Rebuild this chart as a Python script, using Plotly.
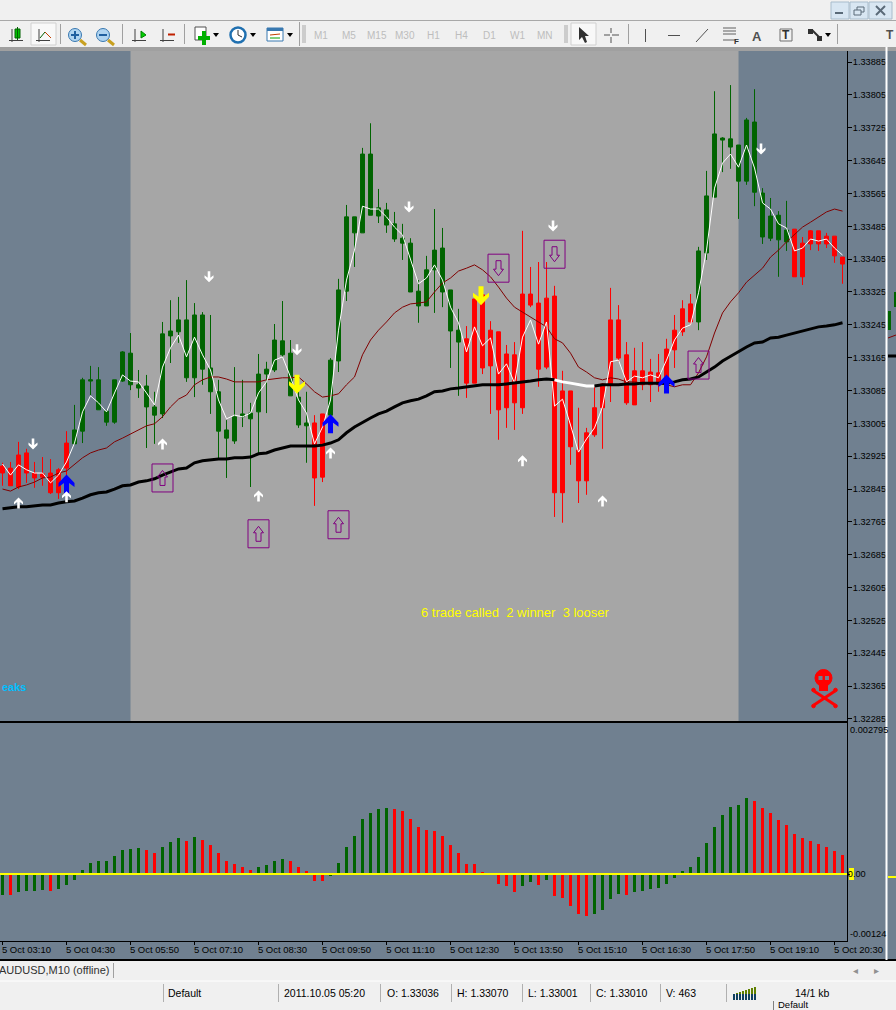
import numpy as np
import pandas as pd
import plotly.graph_objects as go

W, H = 896, 1010

## Chart data, prices are in points (1e-5)

HIGHS = [132909,132911,132960,132943,132911,132923,132918,132896,132986,133050,133116,133145,133142,133038,133111,133181,133225,133135,133123,133082,
         133252,133305,133313,133354,133298,133276,133269,133111,133013,133142,133111,133055,133174,133155,133247,133303,133208,133082,133082,133025,
         133028,133164,133357,133537,133508,133676,133736,133576,133542,133520,133491,133456,133354,133413,133527,133481,133330,133284,133242,133308,
         133318,133254,133228,133196,133203,133474,133386,133398,133398,133340,133133,133084,133043,132994,133094,133103,133335,133293,133203,133189,
         133203,133162,133174,133211,133269,133305,133320,133435,133620,133814,133702,133829,133683,133749,133819,133578,133554,133522,133547,133478,
         133459,133476,133474,133469,133461,133410]
BODY_TOPS = [132901,132896,132928,132933,132884,132882,132884,132892,132957,132989,133111,133111,133111,133035,133111,133179,133176,133099,133096,133045,
             133223,133230,133257,133257,133269,133269,133140,133082,132989,133021,133028,133030,133125,133137,133208,133206,133176,133069,133006,133006,
             133028,133159,133330,133508,133508,133661,133661,133530,133525,133491,133456,133444,133327,133379,133427,133432,133330,133232,133211,133308,
             133318,133232,133228,133174,133172,133320,133320,133298,133310,133315,133084,133084,132940,132982,133043,133101,133257,133257,133172,133133,
             133133,133130,133128,133186,133232,133284,133296,133425,133559,133710,133700,133698,133683,133744,133739,133566,133510,133512,133476,133478,
             133444,133474,133474,133461,133461,133410]
BODY_BOTTOMS = [132884,132853,132850,132884,132872,132874,132836,132836,132896,132955,132986,133108,133038,133008,133008,133108,133099,133091,133045,133025,
                133028,133218,133228,133116,133116,133137,133082,132986,132969,132962,133021,133016,133033,133125,133135,133172,133072,133001,132999,132872,
                132874,133025,133157,133327,133469,133469,133512,133510,133488,133454,133444,133325,133291,133291,133379,133325,133230,133203,133103,133103,
                133140,133145,133038,133043,133055,133043,133293,133137,133142,132836,132836,132948,132865,132865,132977,133043,133099,133164,133055,133050,
                133099,133099,133099,133099,133184,133228,133252,133252,133420,133556,133695,133678,133595,133595,133568,133459,133456,133452,133447,133362,
                133362,133442,133442,133442,133413,133393]
LOWS = [132853,132853,132845,132860,132848,132853,132833,132821,132874,132955,132957,133074,133038,132999,133004,133106,133086,133067,132945,132955,
        133018,133152,133201,133106,133069,133099,133028,132918,132872,132955,132996,132850,132931,133030,133130,133167,133072,132994,132909,132804,
        132862,133025,133130,133303,133386,133469,133512,133493,133469,133447,133403,133325,133250,133291,133274,133288,133140,133072,133067,133103,
        133125,133028,132965,132994,132989,133028,133288,133094,133137,132777,132763,132904,132811,132831,132972,132943,133057,133155,133050,133050,
        133086,133057,133082,133099,133140,133218,133245,133232,133403,133556,133617,133625,133503,133586,133534,133442,133449,133362,133425,133362,
        133342,133427,133425,133432,133396,133345]
BAR_COLORS = ["r"]*9 + ["g"]*30 + ["r"]*2 + ["g"]*17 + ["r"]*29 + ["g"]*12 + ["r"]*7

FAST_LINE = [132906,132879,132904,132892,132884,132884,132860,132879,132911,132957,133033,133072,133055,133033,133079,133123,133108,133106,133079,133050,
             133142,133189,133220,133167,133215,133172,133135,133062,133016,133025,133021,133030,133079,133106,133159,133167,133118,133062,133030,132955,
             132996,133062,133232,133354,133427,133534,133527,133527,133508,133483,133464,133403,133345,133359,133391,133354,133288,133250,133179,133240,
             133194,133213,133125,133150,133103,133215,133257,133198,133252,133047,133064,133001,132935,132967,132994,133045,133155,133159,133106,133120,
             133116,133123,133116,133159,133208,133237,133245,133323,133427,133578,133639,133661,133629,133683,133627,133542,133527,133491,133481,133425,
             133432,133454,133449,133454,133432,133415]
SLOW_LINE = [132845,132840,132850,132855,132862,132872,132874,132884,132889,132904,132921,132933,132940,132945,132960,132969,132979,132989,132999,133004,
             133021,133045,133064,133074,133099,133111,133118,133118,133113,133106,133106,133106,133106,133111,133113,133116,133116,133118,133101,133082,
             133069,133072,133077,133099,133118,133172,133208,133232,133252,133274,133288,133296,133298,133301,133325,133347,133359,133376,133383,133391,
             133379,133362,133337,133310,133288,133276,133262,133250,133240,133211,133201,133176,133142,133130,133116,133111,133116,133113,133106,133106,
             133103,133103,133103,133099,133094,133099,133099,133128,133167,133225,133274,133301,133323,133349,133366,133383,133410,133427,133447,133466,
             133483,133495,133508,133520,133527,133522]
TREND_LINE = [132797,132799,132802,132802,132804,132806,132806,132811,132814,132816,132823,132831,132836,132838,132845,132853,132855,132862,132865,132870,
              132879,132887,132894,132896,132909,132914,132916,132918,132918,132921,132921,132923,132931,132933,132940,132945,132950,132950,132950,132950,
              132952,132957,132965,132982,132996,133008,133018,133028,133035,133045,133055,133060,133064,133072,133082,133084,133089,133091,133094,133096,
              133099,133099,133099,133101,133103,133106,133108,133111,133113,133111,133106,133103,133099,133096,133096,133099,133099,133099,133101,133101,
              133103,133103,133103,133103,133106,133111,133113,133118,133130,133142,133157,133169,133179,133191,133201,133203,133213,133215,133220,133225,
              133230,133235,133240,133242,133245,133250]
TREND_WHITE_FROM, TREND_WHITE_TO = 69, 74

HIST_VALUES = [-39.5,-39.5,-34,-32,-32,-30,-32,-28.4,-21,-11.7,6.8,19.7,23.4,23.4,32.7,43.8,45.7,47.5,43.8,38.3,
               49.4,58.6,66,60.5,67.9,62.3,53.1,38.3,23.4,17.9,12.3,6.8,12.3,16,23.4,27.1,23.4,12.3,4.9,-13.6,
               -13.6,-4.3,19.7,49.4,69.7,101.2,112.3,119.7,121.5,119.7,116,101.2,86.4,80.8,79,69.7,53.1,38.3,17.9,17.9,
               3.1,0,-19.1,-22.8,-34,-22.8,-15.4,-21,-11.7,-41.3,-45,-59.8,-74.7,-78.4,-74.7,-67.3,-46.9,-37.6,-39.5,-34,
               -32,-28.4,-26.5,-19.1,-8,4.9,12.3,30.9,56.8,86.4,108.6,123.4,127.1,140,134.5,121.5,112.3,99.3,90.1,73.4,
               66,60.5,54.9,49.4,42,34.6]
HIST_COLORS = ("g r gggg r ggggggggggg rr ggg r g rrrrrrr gggg rrrrr gggggggg rrrrrrrrrrrrrrrr "
               "gg r g rrrrr gggg r ggggggggggggggg rrrrrrrrrrrr").replace(" ", "")

# signals: bar number and price in points
BLUE_BARS, BLUE_PRICES = [8, 41, 83], [132857, 133004, 133101]
YELLOW_BARS, YELLOW_PRICES = [37, 60], [133100, 133316]
SMALL_UP_BARS, SMALL_UP_PRICES = [2, 8, 20, 32, 41, 65, 75], [132811, 132826, 132955, 132828, 132933, 132914, 132816]
SMALL_DOWN_BARS, SMALL_DOWN_PRICES = [4, 26, 37, 51, 69, 95], [132955, 133362, 133184, 133532, 133486, 133673]
BOX_UP_BARS, BOX_UP_PRICES = [20, 32, 42, 87], [132872, 132736, 132758, 133147]
BOX_DOWN_BARS, BOX_DOWN_PRICES = [62, 69], [133383, 133417]

PRICE_TICKS = [1.33885,1.33805,1.33725,1.33645,1.33565,1.33485,1.33405,1.33325,1.33245,1.33165,1.33085,
               1.33005,1.32925,1.32845,1.32765,1.32685,1.32605,1.32525,1.32445,1.32365,1.32285]
SESSION = ("2011-10-05 05:50", "2011-10-05 18:30")
TIMEFRAMES = ["M1", "M5", "M15", "M30", "H1", "H4", "D1", "W1", "MN"]
STATUS_TEXTS = ["Default", "2011.10.05 05:20", "O: 1.33036", "H: 1.33070", "L: 1.33001", "C: 1.33010", "V: 463", "14/1 kb"]

SLATE, GREY, GREEN, RED = "#708090", "#a6a6a6", "#006400", "#ff0000"
CHROME = "#f0f0f0"
PURPLE = "#800080"
FONT = "Liberation Sans"

## Icons, pixel offsets from the anchor point (up is positive)

BIG_UP = "M0,9.5 L8,1 L8,-3 L2.5,1 L2.5,-9.5 L-2.5,-9.5 L-2.5,1 L-8,-3 L-8,1 Z"
BIG_DOWN = "M-1.5,-9.5 L6.5,-1 L6.5,3 L1,-1 L1,9.5 L-4,9.5 L-4,-1 L-9.5,3 L-9.5,-1 Z"
SMALL_UP = "M0,5.5 L4.5,1 L4.5,-1.5 L1.3,1 L1.3,-5.5 L-1.3,-5.5 L-1.3,1 L-4.5,-1.5 L-4.5,1 Z"
SMALL_DOWN = "M-1.5,-5.5 L3,-1 L3,1.5 L-0.2,-1 L-0.2,5.5 L-2.8,5.5 L-2.8,-1 L-6,1.5 L-6,-1 Z"
BOX = "M-10.5,14 L10.5,14 L10.5,-14 L-10.5,-14 Z"
HOLLOW_UP = "M0,7.5 L5,1 L2.5,1 L2.5,-7.5 L-2.5,-7.5 L-2.5,1 L-5,1 Z"
HOLLOW_DOWN = "M0,-7.5 L5,-1 L2.5,-1 L2.5,7.5 L-2.5,7.5 L-2.5,-1 L-5,-1 Z"

times = pd.date_range("2011-10-05 03:10", periods=len(HIGHS), freq="10min")
bar_time = [t.strftime("%Y-%m-%d %H:%M:%S") for t in times]
tick_times = bar_time[::8]
x_range = ["2011-10-05 03:06:52", "2011-10-05 20:45:36"]


def price(values):
    return np.array(values) / 1e5


opens = [t if c == "r" else b for t, b, c in zip(BODY_TOPS, BODY_BOTTOMS, BAR_COLORS)]
closes = [b if c == "r" else t for t, b, c in zip(BODY_TOPS, BODY_BOTTOMS, BAR_COLORS)]

fig = go.Figure()

fig.add_trace(go.Candlestick(x=times, open=price(opens), high=price(HIGHS), low=price(LOWS), close=price(closes),
                             increasing=dict(line=dict(color=GREEN, width=1), fillcolor=GREEN),
                             decreasing=dict(line=dict(color=RED, width=1), fillcolor=RED),
                             whiskerwidth=0, hoverinfo="skip", xaxis="x", yaxis="y"))
fig.add_trace(go.Scatter(x=times, y=price(SLOW_LINE), mode="lines", line=dict(color="#800000", width=1), xaxis="x", yaxis="y"))
fig.add_trace(go.Scatter(x=times, y=price(FAST_LINE), mode="lines", line=dict(color="#ffffff", width=1), xaxis="x", yaxis="y"))
# the long average turns white for a few bars
fig.add_trace(go.Scatter(x=times[:TREND_WHITE_FROM + 1], y=price(TREND_LINE[:TREND_WHITE_FROM + 1]), mode="lines",
                         line=dict(color="#000000", width=3), xaxis="x", yaxis="y"))
fig.add_trace(go.Scatter(x=times[TREND_WHITE_FROM:TREND_WHITE_TO + 1], y=price(TREND_LINE[TREND_WHITE_FROM:TREND_WHITE_TO + 1]),
                         mode="lines", line=dict(color="#ffffff", width=3), xaxis="x", yaxis="y"))
fig.add_trace(go.Scatter(x=times[TREND_WHITE_TO:], y=price(TREND_LINE[TREND_WHITE_TO:]), mode="lines",
                         line=dict(color="#000000", width=3), xaxis="x", yaxis="y"))

fig.add_trace(go.Bar(x=times, y=np.array(HIST_VALUES) / 1e5, width=235000,
                     marker=dict(color=[GREEN if c == "g" else RED for c in HIST_COLORS], line=dict(width=0)),
                     xaxis="x2", yaxis="y2"))

shapes = []
annotations = []


def px(x):
    return x / W


def py(y):
    return 1 - y / H


def rect(x0, y0, x1, y1, fill=None, line=None, width=1, layer="above"):
    shapes.append(dict(type="rect", xref="paper", yref="paper", x0=px(x0), x1=px(x1), y0=py(y0), y1=py(y1),
                       fillcolor=fill or "rgba(0,0,0,0)", line=dict(color=line or "rgba(0,0,0,0)", width=width if line else 0),
                       layer=layer))


def seg(x0, y0, x1, y1, color="#808080", width=1):
    shapes.append(dict(type="line", xref="paper", yref="paper", x0=px(x0), x1=px(x1), y0=py(y0), y1=py(y1),
                       line=dict(color=color, width=width), layer="above"))


def disc(cx, cy, r, fill, line=None, width=1):
    shapes.append(dict(type="circle", xref="paper", yref="paper", x0=px(cx - r), x1=px(cx + r), y0=py(cy - r), y1=py(cy + r),
                       fillcolor=fill, line=dict(color=line or fill, width=width), layer="above"))


def text(x, y, s, size=10, color="#000000", anchor="left", bold=False):
    annotations.append(dict(xref="paper", yref="paper", x=px(x), y=py(y), text=f"<b>{s}</b>" if bold else s, showarrow=False,
                            xanchor=anchor, yanchor="middle", font=dict(family=FONT, size=size, color=color),
                            borderpad=0, borderwidth=0))


def icon(bar, points, path, fill=None, line=None):
    shapes.append(dict(type="path", xref="x", yref="y", xsizemode="pixel", ysizemode="pixel",
                       xanchor=bar_time[bar], yanchor=points / 1e5, path=path,
                       fillcolor=fill or "rgba(0,0,0,0)", line=dict(color=line or "rgba(0,0,0,0)", width=1 if line else 0),
                       layer="above"))


## Chart objects

shapes.append(dict(type="rect", xref="x", yref="y domain", x0=SESSION[0], x1=SESSION[1], y0=0, y1=1,
                   fillcolor=GREY, line=dict(width=0), layer="below"))
shapes.append(dict(type="line", xref="x2 domain", yref="y2", x0=0, x1=1, y0=0, y1=0,
                   line=dict(color="#ffff00", width=2), layer="above"))

for b, p in zip(BLUE_BARS, BLUE_PRICES):
    icon(b, p, BIG_UP, fill="#0000ff")
for b, p in zip(YELLOW_BARS, YELLOW_PRICES):
    icon(b, p, BIG_DOWN, fill="#ffff00")
for b, p in zip(SMALL_UP_BARS, SMALL_UP_PRICES):
    icon(b, p, SMALL_UP, fill="#ffffff")
for b, p in zip(SMALL_DOWN_BARS, SMALL_DOWN_PRICES):
    icon(b, p, SMALL_DOWN, fill="#ffffff")
for b, p in zip(BOX_UP_BARS, BOX_UP_PRICES):
    icon(b, p, BOX, line=PURPLE)
    icon(b, p, HOLLOW_UP, line=PURPLE)
for b, p in zip(BOX_DOWN_BARS, BOX_DOWN_PRICES):
    icon(b, p, BOX, line=PURPLE)
    icon(b, p, HOLLOW_DOWN, line=PURPLE)

text(421, 612, "6 trade called  2 winner  3 looser", size=13, color="#ffff00")
text(26, 687, "eaks", size=11, color="#00bfff", anchor="right", bold=True)

# skull and crossbones
disc(823.5, 678, 8.5, RED)
rect(819, 682, 828, 691, fill=RED)
rect(818.5, 676, 822.5, 680, fill=SLATE)
rect(825, 676, 829, 680, fill=SLATE)
seg(814, 691, 835, 705, RED, 3)
seg(835, 691, 814, 705, RED, 3)
for bx, by in [(813.5, 690), (835.5, 690), (813.5, 706), (835.5, 706)]:
    disc(bx, by, 1.8, RED)

# label tag on the zero level
rect(849, 868, 854, 880, fill="#ffff00", layer="below")

## Window chrome

rect(0, 0, W, 47, fill=CHROME)
rect(0, 47, W, 51, fill="#a0a0a0")
seg(0, 20.5, W, 20.5, "#a8a8a8")
rect(0, 961, W, 1010, fill=CHROME)
seg(0, 960, W, 960, "#000000", 2)
seg(0, 981, W, 981, "#ffffff", 1)
seg(113.5, 963, 113.5, 978, "#a0a0a0")

seg(886.5, 47, 886.5, 960, "#ffffff", 2)
rect(888, 311, 891, 330, fill=GREEN)
rect(894, 292, 896, 307, fill=GREEN)
seg(888, 356, 896, 356, "#000000", 3)
seg(888, 338, 896, 335, "#800000")
seg(888, 877, 896, 877, "#ffff00", 2)

# window buttons
for x0, x1 in [(831, 849), (850, 868), (869, 892)]:
    rect(x0, 2, x1, 19, fill="#d8e6f2", line="#a8bccc")
rect(835, 12, 843, 14, fill="#5a6a78")
rect(857, 7, 864, 12, line="#5a6a78")
rect(854, 10, 861, 15, fill="#d8e6f2", line="#5a6a78")
seg(876, 6, 885, 15, "#5a6a78", 2)
seg(885, 6, 876, 15, "#5a6a78", 2)

# toolbar separators and grips
for x in [60.5, 122.5, 184.5, 628.5, 837.5]:
    seg(x, 24, x, 44, "#a0a0a0")
seg(299.5, 22, 299.5, 46, "#a0a0a0")
for x in [304, 566]:
    for y in range(26, 44, 2):
        seg(x - 2, y, x + 2, y, "#a8a8a8")

# candle chart and line chart buttons
rect(31, 23, 56, 45, fill="#f8f8f8", line="#d0d0d0")
for ox in [10, 37, 133, 161]:
    seg(ox + 2, 29, ox + 2, 42, "#404040")
    seg(ox - 1, 40.5, ox + 13, 40.5, "#404040")
rect(15, 29, 20, 38, fill="#00c000", line="#006000")
seg(17.5, 27, 17.5, 40, "#006000")
seg(40, 38, 45, 32, "#006000")
seg(45, 32, 51, 38, "#c04000")
shapes.append(dict(type="path", xref="paper", yref="paper", path=f"M {px(141)},{py(31)} L {px(146)},{py(35)} L {px(141)},{py(38)} Z",
                   fillcolor="#00d000", line=dict(color="#008000", width=1), layer="above"))
rect(168, 33.5, 175, 35.5, fill="#c02000")

# zoom buttons
for cx, plus in [(75, True), (103, False)]:
    seg(cx + 5, 40, cx + 11, 45, "#c8a020", 3)
    disc(cx, 35, 6.5, "#b0d4f0", "#3878b0")
    seg(cx - 4, 35, cx + 4, 35, "#2060a0", 2)
    if plus:
        seg(cx, 31, cx, 39, "#2060a0", 2)

# new chart, clock and template buttons
rect(195, 27, 206, 40, fill="#ffffff", line="#505050")
seg(204, 31, 204, 45, "#00b000", 4)
seg(198, 38, 210, 38, "#00b000", 4)
disc(238, 35, 7.5, "#ffffff", "#2070b0", 2.5)
seg(238, 35, 238, 30, "#303030")
seg(238, 35, 242, 37, "#303030")
rect(267, 28, 283, 41, fill="#ffffff", line="#3878b0")
rect(267, 28, 283, 31, fill="#3878b0")
seg(270, 35, 280, 34, "#c04000")
seg(270, 38, 280, 38, "#00a000")
for x in [216, 253, 290, 828]:
    shapes.append(dict(type="path", xref="paper", yref="paper", path=f"M {px(x - 3)},{py(33)} L {px(x + 3)},{py(33)} L {px(x)},{py(37)} Z",
                       fillcolor="#000000", line=dict(width=0), layer="above"))

for i, s in enumerate(TIMEFRAMES):
    text(321 + i * 28, 35, s, size=10, color="#bdbdbd", anchor="center")

# cursor, crosshair and drawing tools
rect(571, 23, 596, 45, fill="#f8f8f8", line="#d0d0d0")
shapes.append(dict(type="path", xref="paper", yref="paper",
                   path=" ".join(f"{'M' if j == 0 else 'L'} {px(x)},{py(y)}" for j, (x, y) in enumerate(
                       [(579, 27), (579, 40), (582, 37), (585, 43), (587, 42), (585, 36), (589, 36)])) + " Z",
                   fillcolor="#303030", line=dict(width=0), layer="above"))
seg(604, 35, 610, 35, "#505050")
seg(612, 35, 619, 35, "#505050")
seg(611, 28, 611, 33, "#505050")
seg(611, 37, 611, 43, "#505050")
seg(645.5, 29, 645.5, 42, "#505050")
seg(668, 35.5, 680, 35.5, "#505050")
seg(696, 42, 708, 29, "#505050")
for y in [28, 31, 34, 40]:
    seg(723, y, 736, y, "#606060")
text(734, 41, "F", size=8, color="#303030", bold=True)
text(757, 36, "A", size=13, color="#505050", anchor="center", bold=True)
rect(780, 29, 792, 41, line="#707070")
text(786, 35, "T", size=12, color="#303030", anchor="center", bold=True)
seg(812, 30, 820, 38, "#303030", 2)
rect(808, 29, 813, 34, fill="#303030")
rect(817, 36, 822, 41, fill="#303030")
text(890, 35, "T", size=12, color="#505050", anchor="center", bold=True)

# tab bar and status bar
text(-1, 970, "AUDUSD,M10 (offline)", size=11, color="#303030")
text(855, 970, "◂", size=10, color="#909090", anchor="center")
text(876, 970, "▸", size=10, color="#909090", anchor="center")
for x in [163.5, 278.5, 380.5, 451.5, 522.5, 590.5, 660.5, 726.5]:
    seg(x, 984, x, 1002, "#b0b0b0")
seg(773.5, 1001, 773.5, 1010, "#808080")
for x, s in zip([168, 284, 387, 457, 528, 596, 666, 795], STATUS_TEXTS):
    text(x, 993, s, size=10.5)
text(778, 1004, "Default", size=9.5)
for k, x in enumerate(range(733, 755, 3)):
    rect(x, 987 + (7 - k), x + 2, 994, fill="#608000")
    rect(x, 994, x + 2, 1000, fill="#104060")

axis_font = dict(family=FONT, size=9.2, color="#000000")
time_font = dict(family=FONT, size=9.5, color="#000000")
fig.update_layout(
    width=W, height=H, margin=dict(l=0, r=0, t=0, b=0), autosize=False, template="none",
    paper_bgcolor=SLATE, plot_bgcolor=SLATE, showlegend=False, bargap=0, hovermode=False,
    xaxis=dict(domain=[0, 847 / W], range=x_range, type="date", anchor="y", rangeslider=dict(visible=False), automargin=False,
               showgrid=False, showticklabels=False, ticks="", showline=True, linecolor="#000000", mirror=True, zeroline=False),
    yaxis=dict(domain=[1 - 721 / H, 1 - 51 / H], range=[1.32280, 1.33912], side="right", anchor="x", automargin=False,
               tickvals=PRICE_TICKS, tickformat=".5f", ticks="outside", ticklen=4, tickcolor="#000000", ticklabelstandoff=-1,
               showgrid=False, zeroline=False, showline=True, linecolor="#000000", tickfont=axis_font),
    xaxis2=dict(domain=[0, 847 / W], range=x_range, type="date", anchor="y2", tickvals=tick_times, tickformat="%-d %b %H:%M",
                ticks="outside", ticklen=3, tickcolor="#000000", ticklabelshift=24, ticklabelstandoff=-3, tickfont=time_font, automargin=False,
                showgrid=False, showline=True, linecolor="#000000", mirror=True, zeroline=False),
    yaxis2=dict(domain=[1 - 941 / H, 1 - 723 / H], range=[-0.00124, 0.002795], side="right", anchor="x2", automargin=False,
                tickvals=[0], ticktext=["0.00"], ticks="outside", ticklen=2, tickcolor="#000000", ticklabelstandoff=-4,
                showgrid=False, zeroline=False, showline=True, linecolor="#000000", tickfont=axis_font),
    font=dict(family=FONT),
    shapes=shapes, annotations=annotations,
)
fig.add_annotation(xref="paper", yref="y2", x=848 / W, y=0.002795, yshift=-7, text="0.002795", showarrow=False,
                   xanchor="left", font=axis_font)
fig.add_annotation(xref="paper", yref="y2", x=848 / W, y=-0.00124, yshift=7, text="-0.00124", showarrow=False,
                   xanchor="left", font=axis_font)

# the page has a default body margin, the chart has to sit in the corner
fig.write_html("out.html", config={"displayModeBar": False},
               post_script="document.body.style.margin='0';document.documentElement.style.overflow='hidden';")
